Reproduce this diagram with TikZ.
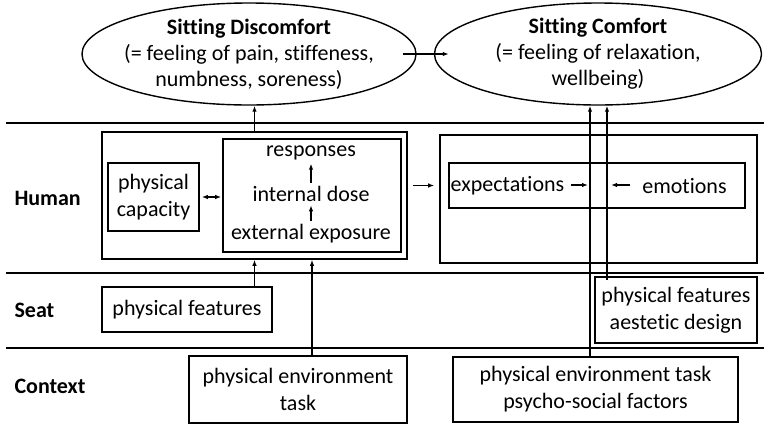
\documentclass[tikz,border=0pt]{standalone}
\usepackage{fontspec}
\setmainfont{Carlito}[Ligatures={NoCommon}]
\usetikzlibrary{shapes.geometric,arrows.meta,positioning}

\begin{document}
\begin{tikzpicture}[x=1pt,y=-1pt,>={Latex[length=6pt,width=4.5pt]},
            every node/.style={font=\fontsize{22}{27}\selectfont},
            box/.style={draw,line width=1.6pt,align=center},
            feeling/.style={ellipse,draw,line width=1.4pt,align=center,inner xsep=-30pt,inner ysep=-20pt,font=\fontsize{22}{26}\selectfont},
            layer/.style={anchor=west,font=\fontsize{22}{27}\selectfont\bfseries},
            band/.style={line width=2pt},
            link/.style={line width=1.4pt}]
            \useasboundingbox (0,0) rectangle (764,424);
            \node[feeling, minimum width=334pt, minimum height=102pt] (disc) at (249,54) {\textbf{Sitting Discomfort}\\(= feeling of pain, stiffeness,\\numbness, soreness)};
            \node[feeling, minimum width=327pt, minimum height=102pt] (comf) at (598,54) {\textbf{Sitting Comfort}\\(= feeling of relaxation,\\wellbeing)};
            \coordinate (l_1) at (6,123);
            \coordinate (l_2) at (6,273);
            \coordinate (l_3) at (6,348);
            \draw[band] (l_1) -- (l_1 -| 764,0);
            \draw[band] (l_2) -- (l_2 -| 764,0);
            \draw[band] (l_3) -- (l_3 -| 764,0);
            \node[layer] (human) at (11,198) {Human};
            \node[layer] (seat) at (11,310) {Seat};
            \node[layer] (context) at (11,386) {Context};
            \node[box, minimum width=305pt, minimum height=127pt] (hum_1) at (254.5,195.5) {};
            \node[box, minimum width=91pt, minimum height=68pt, inner sep=0pt] (cap) at (153.5,197) {physical\\capacity};
            \node[box, minimum width=178pt, minimum height=113pt] (resp) at (312,195.5) {};
            \node (out) at (311,153) {responses};
            \node (dose) at (311,194) {internal dose};
            \node (ext) at (311,234) {external exposure};
            \node[box, minimum width=317pt, minimum height=128pt] (hum_2) at (598.5,199) {};
            \node[box, minimum width=296pt, minimum height=45pt] (feel) at (597,185.5) {};
            \node (expect) at (507.5,186) {expectations};
            \node (emo) at (684.5,186) {emotions};
            \coordinate (m_l) at (588,185);
            \coordinate (m_r) at (611,185);
            \node[box, minimum width=170pt, minimum height=45pt, inner sep=0pt] (seat_1) at (187,309.5) {physical features};
            \node[box, minimum width=162pt, minimum height=66pt, inner sep=0pt] (seat_2) at (676,310) {physical features\\aestetic design};
            \node[box, minimum width=218pt, minimum height=67pt, inner sep=0pt] (ctx_1) at (298,389.5) {physical environment\\task};
            \node[box, minimum width=285pt, minimum height=65pt, inner sep=0pt] (ctx_2) at (595.5,389.5) {physical environment task\\psycho-social factors};
            \coordinate (v_l) at (590,0);
            \coordinate (v_r) at (607,0);
            \path[->, link]
                (dose) edge (out)
                (ext) edge (dose)
                (hum_1.north) edge (hum_1.north |- disc.south)
                (seat_1.north -| hum_1.south) edge (hum_1.south)
                (ctx_1.north -| resp.south) edge (hum_1.south -| resp.south)
                (expect.east |- m_l) edge [shorten <=3pt] (m_l)
                (emo.west |- m_r) edge [shorten <=9pt] (m_r)
                (disc.east) edge [shorten <=-14pt, shorten >=-15pt] (comf.west)
                (hum_1.east |- feel.west) edge [shorten <=5pt, shorten >=5pt] (feel.west -| hum_2.west)
                (ctx_2.north -| v_l) edge (comf.south -| v_l)
                (seat_2.north -| v_r) edge [shorten <=-4pt] (comf.south -| v_r);
            \draw[<->, link, shorten <=2pt, shorten >=1pt] (cap.east) -- (cap.east -| resp.west);
\end{tikzpicture}
\end{document}
